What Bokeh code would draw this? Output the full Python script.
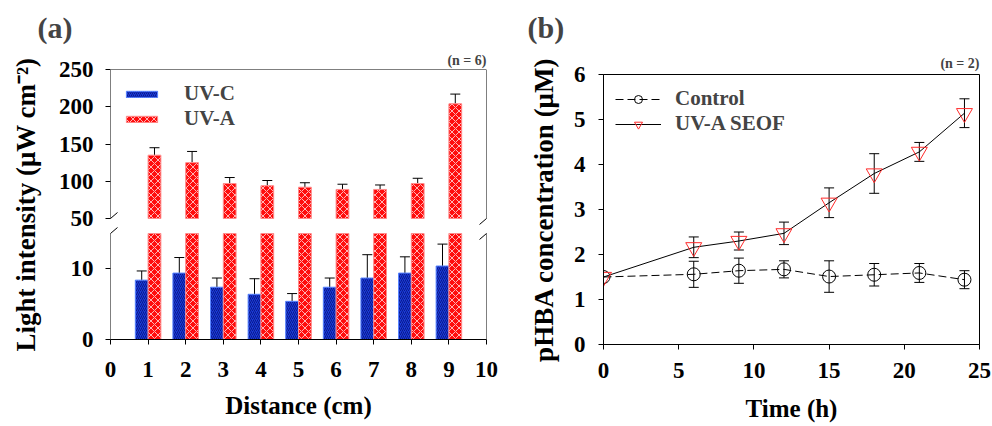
import numpy as np
from bokeh.plotting import figure
from bokeh.models import (Range1d, FixedTicker, Whisker, TeeHead, ColumnDataSource,
                          Legend, LegendItem, Arrow, Title)
from bokeh.layouts import row
from bokeh.embed import file_html
from bokeh.resources import INLINE

FONT = "Liberation Serif"

# ---------------- data : panel (a) ----------------
distance = [1, 2, 3, 4, 5, 6, 7, 8, 9]
uvc = [8.4, 9.4, 7.4, 6.4, 5.4, 7.4, 8.7, 9.4, 10.4]
uvc_err = [1.3, 2.2, 1.3, 2.2, 1.1, 1.3, 3.3, 2.3, 3.1]
uva = [135, 125, 97, 94, 92, 89, 89, 97, 204]
uva_err = [10, 15, 8, 7, 6, 7, 6, 7, 13]
x_ticks_a = list(range(0, 11))
low_ticks = [0, 10]
high_ticks = [50, 100, 150, 200, 250]

# ---------------- data : panel (b) ----------------
time_h = [0, 6, 9, 12, 15, 18, 21, 24]
control = [1.50, 1.56, 1.64, 1.67, 1.51, 1.55, 1.59, 1.44]
control_err = [0, 0.29, 0.28, 0.19, 0.35, 0.25, 0.21, 0.20]
seof = [1.50, 2.16, 2.30, 2.47, 3.15, 3.80, 4.28, 5.14]
seof_err = [0, 0.23, 0.20, 0.25, 0.33, 0.44, 0.21, 0.32]
x_ticks_b = [0, 5, 10, 15, 20, 25]
y_ticks_b = [0, 1, 2, 3, 4, 5, 6]

# ---------------- layout constants (pixels) ----------------
LOW_MAX, HIGH_MIN, HIGH_MAX = 15, 50, 250
FRAME_TOP, FRAME_BOTTOM, H = 74, 344, 426
FRAME_H = FRAME_BOTTOM - FRAME_TOP
LOW_PX, UP_PX = 106, 149
FRAME_W_A = 376
BAR_W = 0.34

SX_A = FRAME_W_A / 10.0
SY_LOW = LOW_PX / LOW_MAX
SY_UP = UP_PX / (HIGH_MAX - HIGH_MIN)
low_end = FRAME_H / SY_LOW
up_start = HIGH_MAX - FRAME_H / SY_UP


def style_axes(p, tick_size="23px", label_size="25px"):
    for ax in p.axis:
        ax.axis_line_color = "black"
        ax.major_tick_line_color = "black"
        ax.major_tick_out = 5
        ax.major_tick_in = 0
        ax.minor_tick_line_color = None
        ax.major_label_text_font = FONT
        ax.major_label_text_font_style = "bold"
        ax.major_label_text_font_size = tick_size
        ax.major_label_text_color = "black"
        ax.axis_label_text_font = FONT
        ax.axis_label_text_font_style = "bold"
        ax.axis_label_text_font_size = label_size
        ax.axis_label_text_color = "black"
    p.xgrid.grid_line_color = None
    p.ygrid.grid_line_color = None


def seg(p, x0, y0, x1, y1, **kw):
    p.add_layout(Arrow(x_start=x0, y_start=y0, x_end=x1, y_end=y1, end=None,
                       line_color="black", line_width=1, **kw))


def titles(p, left_text, n_text, offset, n_standoff, l_standoff):
    p.add_layout(Title(text=n_text, align="right", text_font=FONT, text_font_style="bold",
                       text_font_size="14px", standoff=n_standoff), "above")
    p.add_layout(Title(text=left_text, align="left", offset=offset, text_font=FONT,
                       text_font_style="bold", text_font_size="30px", standoff=l_standoff), "above")


# ================= panel (a) =================
pa = figure(width=498, height=H, x_range=Range1d(0, 10), y_range=Range1d(0, low_end),
            output_backend="svg", toolbar_location=None,
            min_border_left=110, min_border_right=12,
            min_border_top=FRAME_TOP, min_border_bottom=H - FRAME_BOTTOM,
            background_fill_color="white", border_fill_color="white", outline_line_color=None)
pa.margin = (-5, 0, 0, 0)
pa.extra_y_ranges = {"upper": Range1d(up_start, HIGH_MAX)}

src_c = ColumnDataSource(dict(
    x=[d - BAR_W / 2 for d in distance], top=uvc,
    upper=[v + e for v, e in zip(uvc, uvc_err)]))
src_a = ColumnDataSource(dict(
    x=[d + BAR_W / 2 for d in distance], top=uva,
    low_top=[min(v, LOW_MAX) for v in uva],
    upper=[v + e for v, e in zip(uva, uva_err)]))

r_c = pa.vbar(x="x", top="top", bottom=0, width=BAR_W, source=src_c,
              fill_color="#1a3ad8", line_color="#5a86ff", line_width=1,
              hatch_pattern="/", hatch_color="#0a1a8c", hatch_scale=4, hatch_weight=1)
pa.vbar(x="x", top="low_top", bottom=0, width=BAR_W, source=src_a,
        fill_color="#ff0d0d", line_color="#ff8c8c", line_width=1,
        hatch_pattern="x", hatch_color="#ffb4b4", hatch_scale=7, hatch_weight=1)
r_a = pa.vbar(x="x", top="top", bottom=HIGH_MIN, width=BAR_W, source=src_a, y_range_name="upper",
              fill_color="#ff0d0d", line_color="#ff8c8c", line_width=1,
              hatch_pattern="x", hatch_color="#ffb4b4", hatch_scale=7, hatch_weight=1)

pa.add_layout(Whisker(source=src_c, base="x", lower="top", upper="upper", line_color="black",
                      line_width=1, lower_head=None,
                      upper_head=TeeHead(size=10, line_color="black", line_width=1)))
pa.add_layout(Whisker(source=src_a, base="x", lower="top", upper="upper", line_color="black",
                      line_width=1, lower_head=None, y_range_name="upper",
                      upper_head=TeeHead(size=10, line_color="black", line_width=1)))

# frame lines with a break
for xx in (0, 10):
    seg(pa, xx, 0, xx, LOW_MAX)
    seg(pa, xx, HIGH_MIN, xx, HIGH_MAX, y_range_name="upper")
seg(pa, 0, HIGH_MAX, 10, HIGH_MAX, y_range_name="upper")
dx = 7 / SX_A
dy_low = 6 / SY_LOW
dy_up = 6 / SY_UP
for xx in (0, 10):
    seg(pa, xx - dx, LOW_MAX - dy_low, xx + dx, LOW_MAX + dy_low)
    seg(pa, xx - dx, HIGH_MIN - dy_up, xx + dx, HIGH_MIN + dy_up, y_range_name="upper")

style_axes(pa)
pa.xaxis.ticker = FixedTicker(ticks=x_ticks_a)
pa.xaxis.axis_label = "Distance (cm)"
pa.xaxis.major_label_standoff = 17
pa.xaxis.axis_label_standoff = 12

high_pos = [round((v - up_start) / (HIGH_MAX - up_start) * low_end, 6) for v in high_ticks]
pa.yaxis.ticker = FixedTicker(ticks=low_ticks + high_pos)
pa.yaxis.major_label_overrides = {pos: str(v) for pos, v in zip(high_pos, high_ticks)}
pa.yaxis.axis_line_color = None
pa.yaxis.axis_label = "Light intensity (μW cm⁻²)"
pa.yaxis.axis_label_text_font_size = "27px"
pa.yaxis.major_label_standoff = 12
pa.yaxis.axis_label_standoff = 15

leg_a = Legend(items=[LegendItem(label="UV-C", renderers=[r_c]),
                      LegendItem(label="UV-A", renderers=[r_a])],
               location="top_left", margin=12, padding=2, spacing=0,
               glyph_width=39, glyph_height=8, label_height=24, label_standoff=23,
               label_text_font=FONT, label_text_font_style="bold", label_text_font_size="21px",
               border_line_color=None, background_fill_alpha=0)
pa.add_layout(leg_a)
titles(pa, "(a)", "(n = 6)", -73, 3, 12)

# ================= panel (b) =================
pb = figure(width=494, height=H, x_range=Range1d(0, 25), y_range=Range1d(0, 6),
            output_backend="svg", toolbar_location=None,
            min_border_left=105, min_border_right=13,
            min_border_top=FRAME_TOP, min_border_bottom=H - FRAME_BOTTOM,
            background_fill_color="white", border_fill_color="white",
            outline_line_color="black", outline_line_width=1)

src_ctrl = ColumnDataSource(dict(t=time_h, y=control))
src_seof = ColumnDataSource(dict(t=time_h, y=seof))
ectl = [(t, v, e) for t, v, e in zip(time_h, control, control_err) if e > 0]
eseo = [(t, v, e) for t, v, e in zip(time_h, seof, seof_err) if e > 0]
src_ectl = ColumnDataSource(dict(t=[a[0] for a in ectl], lo=[a[1] - a[2] for a in ectl],
                                 hi=[a[1] + a[2] for a in ectl]))
src_eseo = ColumnDataSource(dict(t=[a[0] for a in eseo], lo=[a[1] - a[2] for a in eseo],
                                 hi=[a[1] + a[2] for a in eseo]))

l_ctrl = pb.line("t", "y", source=src_ctrl, line_color="black", line_width=1, line_dash="8 4")
m_ctrl = pb.scatter("t", "y", source=src_ctrl, marker="circle", size=13, line_color="black",
                    line_width=1, fill_color=None)
l_seof = pb.line("t", "y", source=src_seof, line_color="black", line_width=1)
m_seof = pb.scatter("t", "y", source=src_seof, marker="inverted_triangle", size=16,
                    line_color="#ff2a2a", line_width=1, fill_color=None)

for s in (src_ectl, src_eseo):
    pb.add_layout(Whisker(source=s, base="t", lower="lo", upper="hi", line_color="black", line_width=1,
                          lower_head=TeeHead(size=10, line_color="black", line_width=1),
                          upper_head=TeeHead(size=10, line_color="black", line_width=1)))

style_axes(pb)
pb.xaxis.ticker = FixedTicker(ticks=x_ticks_b)
pb.yaxis.ticker = FixedTicker(ticks=y_ticks_b)
pb.xaxis.axis_label = "Time (h)"
pb.xaxis.major_label_standoff = 13
pb.xaxis.axis_label_standoff = 14
pb.yaxis.axis_label = "pHBA concentration (μM)"
pb.yaxis.axis_label_text_font_size = "27px"
pb.yaxis.major_label_standoff = 13
pb.yaxis.axis_label_standoff = 12

leg_b = Legend(items=[LegendItem(label="Control", renderers=[l_ctrl, m_ctrl]),
                      LegendItem(label="UV-A SEOF", renderers=[l_seof, m_seof])],
               location="top_left", margin=12, padding=2, spacing=0,
               glyph_width=46, glyph_height=20, label_height=24, label_standoff=14,
               label_text_font=FONT, label_text_font_style="bold", label_text_font_size="21px",
               border_line_color=None, background_fill_alpha=0)
pb.add_layout(leg_b)
titles(pb, "(b)", "(n = 2)", -76, 8, 11)

layout = row(pa, pb)
open("out.html", "w").write(file_html(layout, INLINE))
